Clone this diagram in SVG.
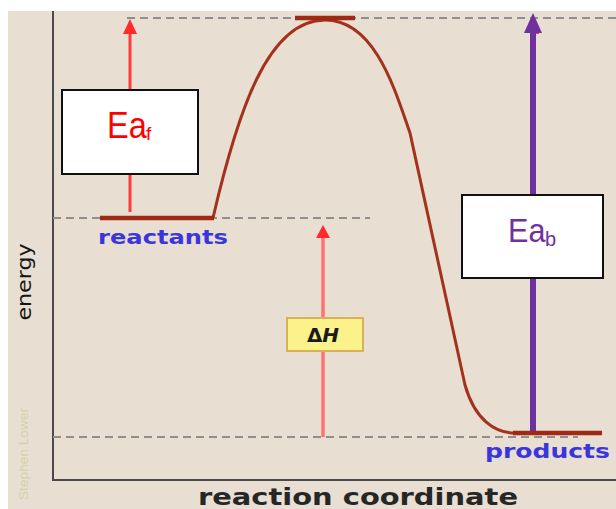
<svg xmlns="http://www.w3.org/2000/svg" width="616" height="509" viewBox="0 0 616 509">
<defs>
<style>
.dash{stroke:#8f8f8f;stroke-width:2;stroke-dasharray:8 5;fill:none}
.axis{stroke:#4a4a4a;stroke-width:2;fill:none}
.curve{stroke:#a3311c;stroke-width:3;fill:none}
.level{stroke:#9e2a14;stroke-width:4.5}
.lbl{font-family:"DejaVu Sans",Verdana,sans-serif;font-weight:bold;fill:#3b35dc;font-size:19px}
.box{fill:#ffffff;stroke:#111;stroke-width:2}
.ea{font-family:"Liberation Sans",Arial,sans-serif}
</style>
</defs>
<rect x="0" y="0" width="616" height="509" fill="#ffffff"/>
<rect x="8" y="11" width="608" height="498" fill="#e8dfd2"/>
<g id="axes">
<line class="axis" x1="53" y1="11" x2="53" y2="481"/>
<line class="axis" x1="52" y1="480" x2="616" y2="480"/>
<text transform="translate(31,282) rotate(-90)" text-anchor="middle" font-family="DejaVu Sans,Verdana,sans-serif" font-size="20" fill="#151515" textLength="77" lengthAdjust="spacingAndGlyphs">energy</text>
<text x="198" y="505" font-family="DejaVu Sans,Verdana,sans-serif" font-size="23" font-weight="bold" fill="#262626" textLength="320" lengthAdjust="spacingAndGlyphs">reaction coordinate</text>
<text transform="translate(28,454) rotate(-90)" text-anchor="middle" font-family="Liberation Sans Narrow,Liberation Sans,sans-serif" font-size="13" fill="#d5d2a8" textLength="92" lengthAdjust="spacingAndGlyphs">Stephen Lower</text>
</g>
<g id="connectors">
<line class="dash" x1="127" y1="18" x2="616" y2="18"/>
<line class="dash" x1="53" y1="218" x2="370" y2="218"/>
<line class="dash" x1="53" y1="437" x2="578" y2="437"/>
<path class="curve" d="M213,218 C238,110 268,20 325,20 C375,20 395,90 410,133 L465,385 C475,420 495,433 515,433"/>
<line x1="130" y1="212" x2="130" y2="32" stroke="#ff3b3b" stroke-width="3"/>
<polygon points="130,19 123,34 137,34" fill="#ff2a2a"/>
<line x1="323" y1="437" x2="323" y2="236" stroke="#ff7272" stroke-width="3.5"/>
<polygon points="323,225 316,238 330,238" fill="#ff2a2a"/>
<line x1="535" y1="32" x2="535" y2="34" stroke="#ff4040" stroke-width="8"/>
<line x1="533" y1="433" x2="533" y2="30" stroke="#7030a0" stroke-width="6"/>
<polygon points="533,13 524,33 542,33" fill="#7030a0"/>
</g>
<g id="reactants">
<line class="level" x1="100" y1="218" x2="214" y2="218"/>
<text class="lbl" x="98" y="244" textLength="130" lengthAdjust="spacingAndGlyphs">reactants</text>
</g>
<g id="transition-state">
<line class="level" x1="295" y1="18" x2="355" y2="18"/>
</g>
<g id="products">
<line class="level" x1="513" y1="433" x2="602" y2="433"/>
<text class="lbl" x="485" y="458" textLength="125" lengthAdjust="spacingAndGlyphs">products</text>
</g>
<g id="eaf">
<rect x="61" y="90" width="137" height="84" fill="#d9b46a"/>
<rect class="box" x="62" y="90" width="136" height="84"/>
<text class="ea" transform="translate(107,138) scale(0.88,1)" fill="#ff0000" font-size="37">Ea</text>
<text class="ea" x="146" y="140" fill="#ff0000" font-size="19">f</text>
</g>
<g id="eab">
<rect class="box" x="462" y="195" width="141" height="83"/>
<text class="ea" transform="translate(508,242) scale(0.9,1)" fill="#7030a0" font-size="34">Ea</text>
<text class="ea" x="545" y="246" fill="#7030a0" font-size="20">b</text>
</g>
<g id="deltaH">
<rect x="287" y="318" width="76" height="33" fill="#fbf28c" stroke="#d9b158" stroke-width="2"/>
<text x="323" y="342" text-anchor="middle" font-family="DejaVu Sans,Verdana,sans-serif" font-size="20" font-weight="bold" fill="#1a1a1a">Δ<tspan font-style="italic">H</tspan></text>
</g>
</svg>
